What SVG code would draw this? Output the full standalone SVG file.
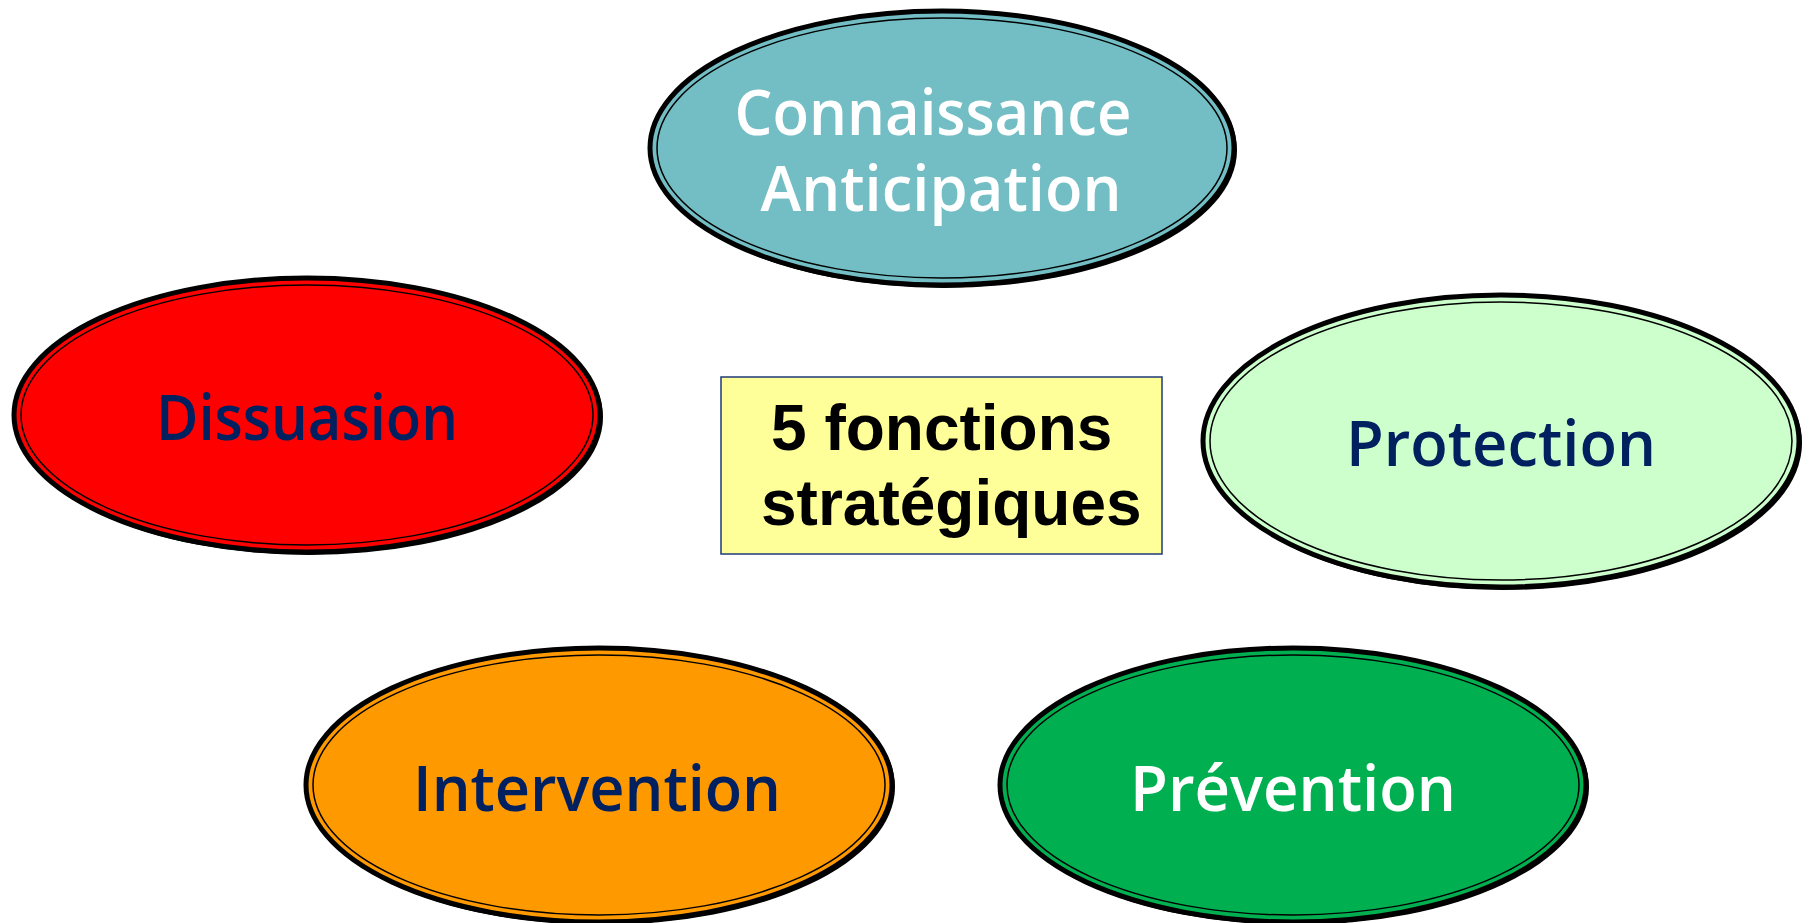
<svg xmlns="http://www.w3.org/2000/svg" width="1810" height="923" viewBox="0 0 1810 923">
<style>
.outer{stroke:#000;stroke-width:5}
.inner{fill:none;stroke:#000;stroke-width:1.5}
.lbl{font-family:"Open Sans","Noto Sans",sans-serif;font-weight:600;font-size:64px;text-anchor:middle}
.navy{fill:#002060}
.white{fill:#fff}
.box{font-family:"Liberation Sans",Arial,sans-serif;font-weight:bold;font-size:64px;fill:#000}
</style>
<rect width="1810" height="923" fill="#fff"/>
<g id="connaissance">
<ellipse cx="944" cy="150" rx="293" ry="138" fill="#000"/>
<ellipse cx="942" cy="148" rx="292" ry="137" class="outer" fill="#72BEC4" stroke-width="3"/>
<ellipse cx="942" cy="148" rx="285" ry="130" class="inner"/>
<text class="lbl white" x="933" y="135" textLength="397" lengthAdjust="spacingAndGlyphs">Connaissance</text>
<text class="lbl white" x="941" y="211" textLength="361" lengthAdjust="spacingAndGlyphs">Anticipation</text>
</g>
<g id="dissuasion">
<ellipse cx="309" cy="417" rx="294" ry="138" fill="#000"/>
<ellipse cx="307" cy="415" rx="293" ry="137" class="outer" fill="#FF0000" stroke-width="3"/>
<ellipse cx="307" cy="415" rx="286" ry="130" class="inner"/>
<text class="lbl navy" x="307" y="440" textLength="302" lengthAdjust="spacingAndGlyphs">Dissuasion</text>
</g>
<g id="protection">
<ellipse cx="1503" cy="443" rx="299" ry="147" fill="#000"/>
<ellipse cx="1501" cy="441" rx="298" ry="146" class="outer" fill="#CCFFCC" stroke-width="3"/>
<ellipse cx="1501" cy="441" rx="291" ry="139" class="inner"/>
<text class="lbl navy" x="1501" y="466" textLength="310" lengthAdjust="spacingAndGlyphs">Protection</text>
</g>
<g id="intervention">
<ellipse cx="601" cy="787" rx="294" ry="138" fill="#000"/>
<ellipse cx="599" cy="785" rx="293" ry="137" class="outer" fill="#FF9900" stroke-width="3"/>
<ellipse cx="599" cy="785" rx="286" ry="130" class="inner"/>
<text class="lbl navy" x="597" y="811" textLength="368" lengthAdjust="spacingAndGlyphs">Intervention</text>
</g>
<g id="prevention">
<ellipse cx="1295" cy="787" rx="294" ry="138" fill="#000"/>
<ellipse cx="1293" cy="785" rx="293" ry="137" class="outer" fill="#00B050" stroke-width="3"/>
<ellipse cx="1293" cy="785" rx="286" ry="130" class="inner"/>
<text class="lbl white" x="1293" y="811" textLength="326" lengthAdjust="spacingAndGlyphs">Prévention</text>
</g>
<g id="center">
<rect x="721" y="377" width="441" height="177" fill="#FFFF99" stroke="#1F3A7A" stroke-width="1.5"/>
<text class="box" x="771" y="450">5 fonctions</text>
<text class="box" x="761" y="525">stratégiques</text>
</g>
<g id="connectors"/>
</svg>
